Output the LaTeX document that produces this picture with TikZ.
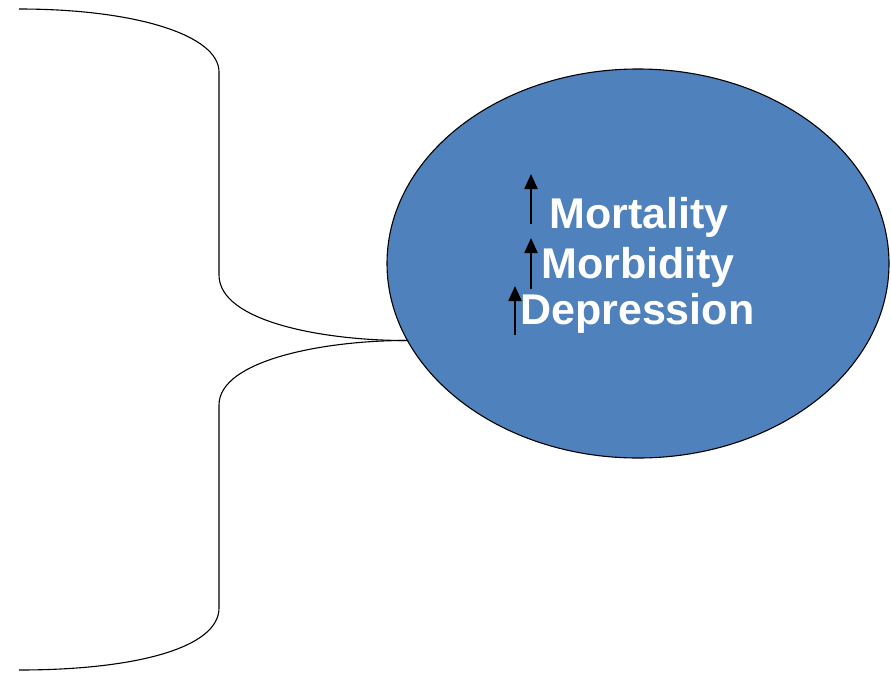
\documentclass[tikz,border=0pt]{standalone}
\usepackage{fontspec}
\setmainfont{Liberation Sans}
\usetikzlibrary{arrows.meta,shapes.geometric}
\definecolor{oval}{HTML}{4F81BD}
\tikzset{
  bracket/.style={draw=black, line width=1.1pt},
  outcomebox/.style={ellipse, draw=black, line width=1.1pt, fill=oval,
    minimum width=502pt, minimum height=389pt, inner sep=0pt},
  label/.style={anchor=base west, inner sep=0pt, text=white,
    font=\fontsize{43}{48}\selectfont\bfseries},
  uparrow/.style={line width=2.2pt, -{Triangle[width=13pt,length=15pt]}}
}
\begin{document}
\begin{tikzpicture}[x=1pt,y=-1pt]
  \useasboundingbox (0,0) rectangle (891,672);
  % outcome oval
  \node[outcomebox] (outcome) at (638,263.5) {};
  % brace pointing at the oval
  \coordinate (top) at (19,9);
  \coordinate (bottom) at (19,670);
  \coordinate (tip) at (405,340.5);
  \coordinate (touch) at (408,340.5);
  \draw[bracket] (top) .. controls (135,9) and (219,35) .. (219,72)
    -- (219,275) .. controls (219,322) and (325,340.5) .. (tip) -- (touch);
  \draw[bracket] (tip) .. controls (325,340.5) and (219,360) .. (219,405)
    -- (219,608) .. controls (219,648) and (135,670) .. (bottom);
  % labels
  \node[label] (mort) at (549,228) {Mortality};
  \node[label] (morb) at (541,278) {Morbidity};
  \node[label] (depr) at (520,324) {Depression};
  % rising arrows
  \coordinate (a1s) at (531,224); \coordinate (a1e) at (531,174);
  \coordinate (a2s) at (531,289); \coordinate (a2e) at (531,238);
  \coordinate (a3s) at (515,335); \coordinate (a3e) at (515,286);
  \draw[uparrow] (a1s) -- (a1e);
  \draw[uparrow] (a2s) -- (a2e);
  \draw[uparrow] (a3s) -- (a3e);
\end{tikzpicture}
\end{document}
